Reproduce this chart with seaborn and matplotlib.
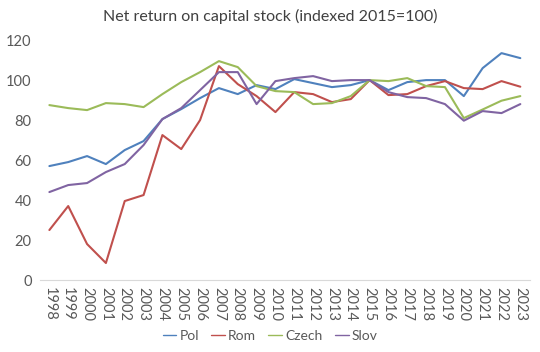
import matplotlib.pyplot as plt
import seaborn as sns
import pandas as pd

years = list(range(1998, 2024))
pol = [57, 59, 62, 58, 65, 69.5, 80.5, 85.5, 91, 96, 93, 97.5, 95.5, 100.5, 98.5, 96.5,
       97.5, 100, 95, 99, 100, 100, 92, 106, 113.5, 111]
rom = [25, 37, 18, 8.5, 39.5, 42.5, 72.5, 65.5, 80, 107, 98, 92, 84, 94, 93, 89,
       90.5, 100, 92.5, 93, 97, 99.5, 96, 95.5, 99.5, 96.7]
czech = [87.5, 86, 85, 88.5, 88, 86.5, 93, 99, 104, 109.5, 106.5, 97, 94.5, 94, 88, 88.5,
         92, 100, 99.5, 101, 97, 96.5, 81, 85.3, 89.7, 92]
slov = [44, 47.5, 48.5, 54, 58, 67.5, 80.5, 86, 95, 104, 104, 88, 99.5, 101, 102, 99.5,
        100, 100, 94, 91.5, 91, 88, 79.7, 84.5, 83.5, 88]

series = {"Pol": pol, "Rom": rom, "Czech": czech, "Slov": slov}
colors = ["#4F81BD", "#C0504D", "#9BBB59", "#8064A2"]

df = pd.DataFrame([
    {"year": y, "value": v, "country": name}
    for name, vals in series.items()
    for y, v in zip(years, vals)
])

sns.set_style("white")
plt.rcParams["font.family"] = ["Lato", "DejaVu Sans"]
text_col = "#595959"

fig = plt.figure(figsize=(5.4, 3.52), dpi=100)
ax = fig.add_axes([0.074, 0.2045, 0.907, 0.6815])
sns.lineplot(data=df, x="year", y="value", hue="country", palette=colors,
             linewidth=1.5, ax=ax)

ax.set_xlim(years[0] - 0.5, years[-1] + 0.5)
ax.set_ylim(0, 120)
ax.set_xticks(years)
ax.set_xticklabels([str(y) for y in years], rotation=-90, fontsize=10.5, color=text_col)
ax.set_yticks(range(0, 121, 20))
ax.tick_params(axis="y", labelsize=10.5, colors=text_col, length=0, pad=6)
ax.tick_params(axis="x", length=0, pad=5)
ax.set_xlabel("")
ax.set_ylabel("")
for s in ["top", "right", "left"]:
    ax.spines[s].set_visible(False)
ax.spines["bottom"].set_color("#D9D9D9")

fig.suptitle("Net return on capital stock (indexed 2015=100)", y=0.975,
             fontsize=11.5, color="#404040")

handles, labels = ax.get_legend_handles_labels()
for h in handles:
    h.set_linewidth(1.0)
ax.legend_.remove()
fig.legend(handles, labels, loc="center", bbox_to_anchor=(0.5, 0.046), ncol=4,
           frameon=False, fontsize=10, handlelength=1.0, handletextpad=0.2,
           columnspacing=0.9, labelcolor=text_col)

fig.savefig("out.png", dpi=100)
